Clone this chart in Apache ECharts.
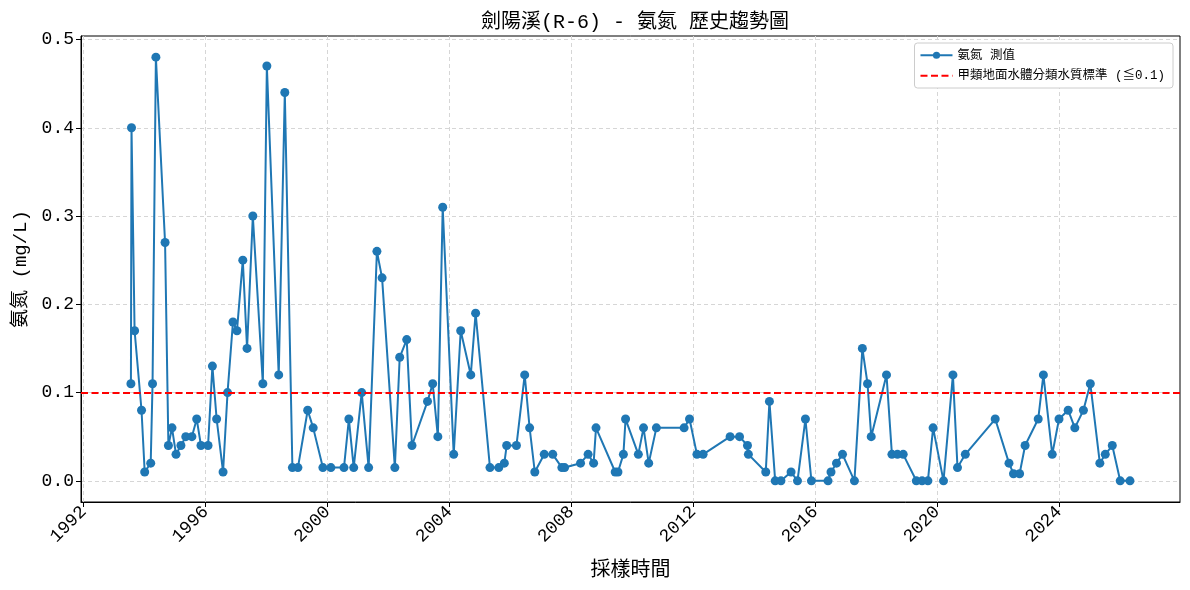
<!DOCTYPE html>
<html>
<head>
<meta charset="utf-8">
<script src="https://cdn.jsdelivr.net/npm/echarts@6/dist/echarts.min.js"></script>
<style>
  html, body { margin: 0; padding: 0; background: #fff; }
  #main { width: 1190px; height: 590px; }
</style>
</head>
<body>
<div id="main"></div>
<script>
// 採樣日期
var sampleDates = [
  '1993-07-20', '1993-07-27', '1993-09-02', '1993-11-24', '1994-01-01', '1994-03-14',
  '1994-04-05', '1994-05-15', '1994-09-02', '1994-10-12', '1994-11-24', '1995-01-11',
  '1995-03-11', '1995-05-08', '1995-07-20', '1995-09-16', '1995-11-06', '1996-01-30',
  '1996-03-22', '1996-05-12', '1996-07-28', '1996-09-20', '1996-11-24', '1997-01-11',
  '1997-03-22', '1997-05-12', '1997-07-20', '1997-11-17', '1998-01-04', '1998-05-26',
  '1998-08-07', '1998-11-06', '1999-01-11', '1999-05-08', '1999-07-13', '1999-11-06',
  '2000-02-10', '2000-07-16', '2000-09-13', '2000-11-10', '2001-02-14', '2001-05-08',
  '2001-08-15', '2001-10-16', '2002-03-18', '2002-05-15', '2002-08-07', '2002-10-09',
  '2003-04-13', '2003-06-14', '2003-08-15', '2003-10-12', '2004-02-21', '2004-05-15',
  '2004-09-13', '2004-11-10', '2005-05-01', '2005-08-15', '2005-10-20', '2005-11-17',
  '2006-03-14', '2006-06-21', '2006-08-19', '2006-10-20', '2007-02-10', '2007-05-23',
  '2007-09-09', '2007-10-12', '2008-04-20', '2008-07-20', '2008-09-24', '2008-10-23',
  '2009-06-10', '2009-07-13', '2009-09-16', '2009-10-12', '2010-03-14', '2010-05-15',
  '2010-07-16', '2010-10-16', '2011-09-13', '2011-11-17', '2012-02-14', '2012-04-28',
  '2013-03-18', '2013-07-09', '2013-10-12', '2013-10-23', '2014-05-19', '2014-07-02',
  '2014-09-09', '2014-11-17', '2015-03-18', '2015-06-03', '2015-09-06', '2015-11-17',
  '2016-06-03', '2016-07-09', '2016-09-13', '2016-11-24', '2017-04-16', '2017-07-20',
  '2017-09-20', '2017-11-03', '2018-05-05', '2018-07-09', '2018-09-13', '2018-11-21',
  '2019-04-27', '2019-07-05', '2019-09-13', '2019-11-14', '2020-03-18', '2020-07-09',
  '2020-09-02', '2020-12-05', '2021-11-28', '2022-05-12', '2022-07-05', '2022-09-16',
  '2022-11-21', '2023-04-27', '2023-06-28', '2023-10-12', '2024-01-01', '2024-04-20',
  '2024-07-09', '2024-10-20', '2025-01-11', '2025-05-05', '2025-07-09', '2025-10-01',
  '2026-01-04', '2026-05-01'
];

// 氨氮 測值 (mg/L)
var nh3Values = [
  0.11, 0.40, 0.17, 0.08, 0.01, 0.02,
  0.11, 0.48, 0.27, 0.04, 0.06, 0.03,
  0.04, 0.05, 0.05, 0.07, 0.04, 0.04,
  0.13, 0.07, 0.01, 0.10, 0.18, 0.17,
  0.25, 0.15, 0.30, 0.11, 0.47, 0.12,
  0.44, 0.015, 0.015, 0.08, 0.06, 0.015,
  0.015, 0.015, 0.07, 0.015, 0.10, 0.015,
  0.26, 0.23, 0.015, 0.14, 0.16, 0.04,
  0.09, 0.11, 0.05, 0.31, 0.03, 0.17,
  0.12, 0.19, 0.015, 0.015, 0.02, 0.04,
  0.04, 0.12, 0.06, 0.01, 0.03, 0.03,
  0.015, 0.015, 0.02, 0.03, 0.02, 0.06,
  0.01, 0.01, 0.03, 0.07, 0.03, 0.06,
  0.02, 0.06, 0.06, 0.07, 0.03, 0.03,
  0.05, 0.05, 0.04, 0.03, 0.01, 0.09,
  0, 0, 0.01, 0, 0.07, 0,
  0, 0.01, 0.02, 0.03, 0, 0.15,
  0.11, 0.05, 0.12, 0.03, 0.03, 0.03,
  0, 0, 0, 0.06, 0, 0.12,
  0.015, 0.03, 0.07, 0.02, 0.008, 0.008,
  0.04, 0.07, 0.12, 0.03, 0.07, 0.08,
  0.06, 0.08, 0.11, 0.02, 0.03, 0.04,
  0, 0
];

var yearTicks = [1992, 1996, 2000, 2004, 2008, 2012, 2016, 2020, 2024];
var valueTicks = [0, 0.1, 0.2, 0.3, 0.4, 0.5];
var standardValue = 0.1;

var numFont = '"Liberation Mono", "DejaVu Sans Mono", monospace';
var mixFont = '"Liberation Mono", "Noto Sans CJK TC", monospace';

// 日期轉成小數年份, x 軸用數值軸
function toYear(s) {
  var p = s.split('-');
  var y = +p[0];
  var t = Date.UTC(y, +p[1] - 1, +p[2]);
  var a = Date.UTC(y, 0, 1), b = Date.UTC(y + 1, 0, 1);
  return y + (t - a) / (b - a);
}

var chart = echarts.init(document.getElementById('main'), null, { renderer: 'canvas' });

var seriesData = sampleDates.map(function (d, i) { return [toYear(d), nh3Values[i]]; });

var option = {
  animation: false,
  backgroundColor: '#fff',
  title: {
    text: '劍陽溪(R-6) - 氨氮 歷史趨勢圖',
    left: 630,
    textAlign: 'center',
    top: 8,
    textStyle: { fontFamily: mixFont, fontSize: 20, fontWeight: 'normal', color: '#000' }
  },
  tooltip: { trigger: 'axis' },
  legend: {
    orient: 'vertical',
    right: 17,
    top: 43,
    padding: [6, 8, 6, 5],
    itemGap: 8,
    itemWidth: 32,
    itemHeight: 9,
    backgroundColor: '#fff',
    borderColor: '#cccccc',
    borderWidth: 1,
    borderRadius: 3,
    textStyle: { fontFamily: mixFont, fontSize: 12.5, color: '#000' },
    data: [
      { name: '氨氮 測值' },
      { name: '甲類地面水體分類水質標準 (≦0.1)', itemStyle: { opacity: 0 } }
    ]
  },
  grid: {
    left: 81,
    right: 10,
    top: 36,
    bottom: 88,
    show: true,
    borderColor: '#000',
    borderWidth: 1,
    containLabel: false
  },
  xAxis: {
    type: 'value',
    min: 1991.91,
    max: 2027.97,
    name: '採樣時間',
    nameLocation: 'middle',
    nameGap: 59,
    nameTextStyle: { fontFamily: mixFont, fontSize: 20, color: '#000' },
    axisLine: { show: true, onZero: false, lineStyle: { color: '#000', width: 1 } },
    axisTick: { show: true, inside: false, length: 5, lineStyle: { color: '#000' }, customValues: yearTicks },
    axisLabel: {
      rotate: 45,
      fontFamily: numFont,
      fontSize: 18,
      color: '#000',
      margin: 7,
      customValues: yearTicks,
      formatter: function (v) { return String(Math.round(v)); }
    },
    splitLine: {
      show: true,
      customValues: yearTicks,
      lineStyle: { color: '#d6d6d6', type: [4, 3], width: 1 }
    }
  },
  yAxis: {
    type: 'value',
    min: -0.024,
    max: 0.504,
    name: '氨氮 (mg/L)',
    nameLocation: 'middle',
    nameGap: 51,
    nameTextStyle: { fontFamily: mixFont, fontSize: 19, color: '#000' },
    axisLine: { show: true, onZero: false, lineStyle: { color: '#000', width: 1 } },
    axisTick: { show: true, inside: false, length: 5, lineStyle: { color: '#000' }, customValues: valueTicks },
    axisLabel: {
      fontFamily: numFont,
      fontSize: 18,
      color: '#000',
      margin: 7,
      customValues: valueTicks,
      formatter: function (v) { return v.toFixed(1); }
    },
    splitLine: {
      show: true,
      customValues: valueTicks,
      lineStyle: { color: '#d6d6d6', type: [4, 3], width: 1 }
    }
  },
  series: [
    {
      name: '氨氮 測值',
      type: 'line',
      data: seriesData,
      symbol: 'circle',
      symbolSize: 9,
      showAllSymbol: true,
      itemStyle: { color: '#1f77b4' },
      lineStyle: { color: '#1f77b4', width: 2 },
      z: 3
    },
    {
      name: '甲類地面水體分類水質標準 (≦0.1)',
      type: 'line',
      data: [],
      symbol: 'none',
      symbolSize: 0,
      itemStyle: { color: '#ff0000' },
      lineStyle: { color: '#ff0000', type: [7, 3.5], width: 2 },
      markLine: {
        silent: true,
        symbol: 'none',
        label: { show: false },
        lineStyle: { color: '#ff0000', type: [7, 3.5], width: 2 },
        data: [{ yAxis: standardValue }]
      },
      z: 2
    }
  ]
};

chart.setOption(option);
</script>
</body>
</html>
